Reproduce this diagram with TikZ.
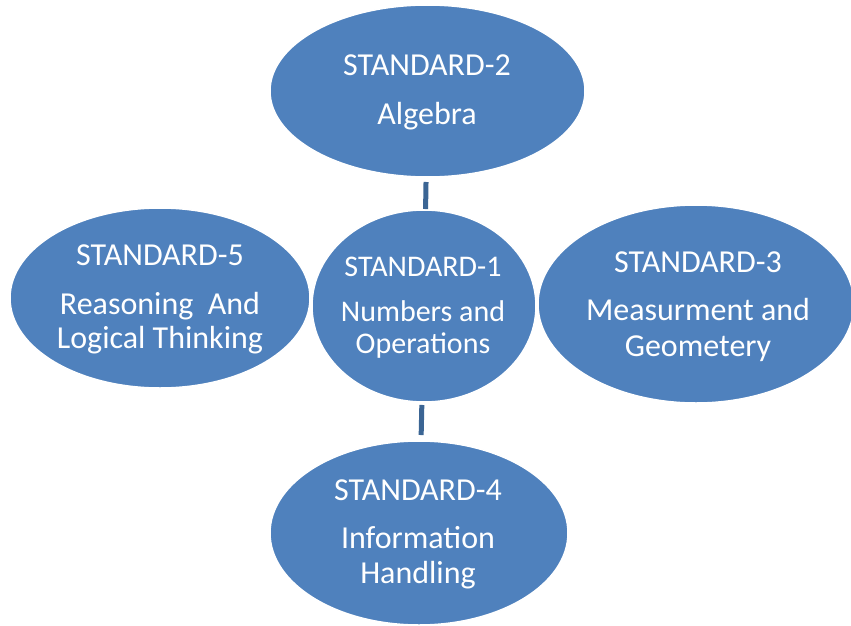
\documentclass[tikz,border=0pt]{standalone}
\usepackage{fontspec}
\setmainfont{Carlito}
\usetikzlibrary{shapes.geometric}
\definecolor{bubblefill}{HTML}{4F81BD}
\definecolor{linkline}{HTML}{3B6594}
\tikzset{
  bubble/.style={ellipse, fill=bubblefill, draw=white, line width=1.5pt,
    inner sep=0pt, outer sep=0pt},
  lbl/.style={anchor=base, inner sep=0pt, text=white,
    font=\fontsize{32}{38}\selectfont},
  lblsmall/.style={lbl, font=\fontsize{30}{36}\selectfont},
  link/.style={draw=linkline, line width=5pt}
}
\begin{document}
\begin{tikzpicture}[x=1pt,y=-1pt]
  \useasboundingbox (0,0) rectangle (851,626);
  % bubbles
  \node[bubble, minimum width=315pt, minimum height=172pt] (s2) at (427.5,91) {};
  \node[bubble, minimum width=224pt, minimum height=192pt] (s1) at (424,306) {};
  \node[bubble, minimum width=300pt, minimum height=180pt] (s5) at (160,298) {};
  \node[bubble, minimum width=316pt, minimum height=198pt] (s3) at (696,304) {};
  \node[bubble, minimum width=298pt, minimum height=184pt] (s4) at (419,533) {};
  % connectors
  \draw[link, shorten <=5pt, shorten >=1pt] (s2) -- (s1);
  \draw[link, shorten <=3pt, shorten >=6pt] (s1) -- (s4);
  % labels
  \node[lbl] (t2a) at (427,76) {STANDARD-2};
  \node[lbl] (t2b) at (427,124) {Algebra};
  \node[lblsmall] (t1a) at (423,276) {STANDARD-1};
  \node[lblsmall] (t1b) at (423,321) {Numbers and};
  \node[lblsmall] (t1c) at (423,353) {Operations};
  \node[lbl] (t5a) at (160,265) {STANDARD-5};
  \node[lbl] (t5b) at (160,314) {Reasoning\ \ And};
  \node[lbl] (t5c) at (160,348) {Logical Thinking};
  \node[lbl] (t3a) at (698,272) {STANDARD-3};
  \node[lbl] (t3b) at (698,320) {Measurment and};
  \node[lbl] (t3c) at (698,356) {Geometery};
  \node[lbl] (t4a) at (418,500) {STANDARD-4};
  \node[lbl] (t4b) at (418,548) {Information};
  \node[lbl] (t4c) at (418,583) {Handling};
\end{tikzpicture}
\end{document}
